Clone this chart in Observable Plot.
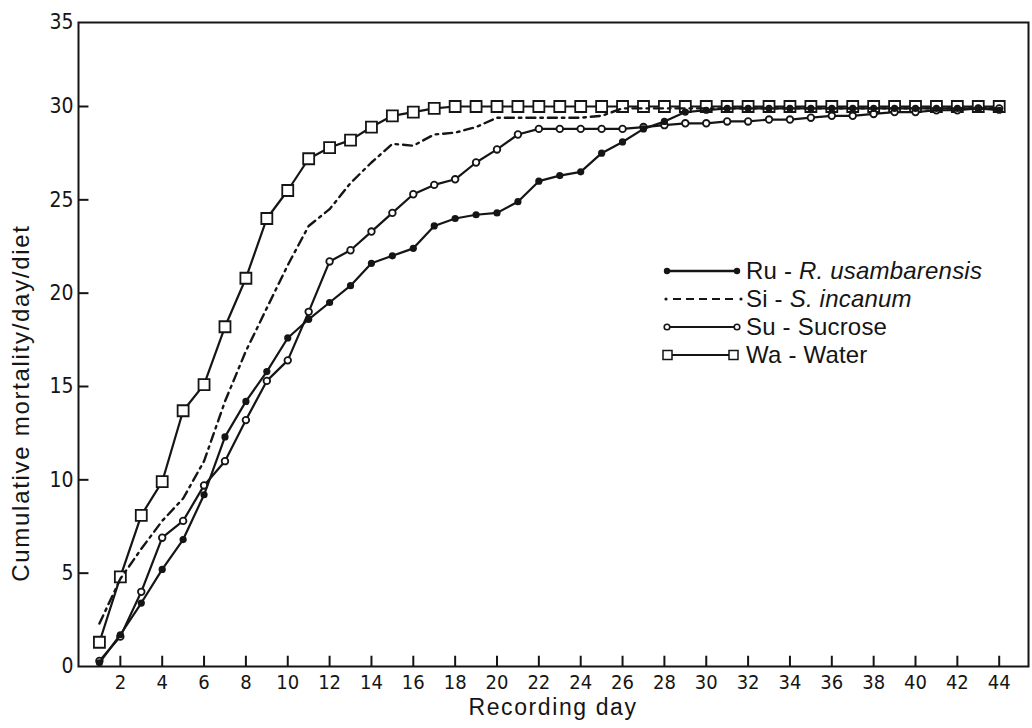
<!DOCTYPE html>
<html><head><meta charset="utf-8">
<script src="https://cdn.jsdelivr.net/npm/d3@7"></script>
<script src="https://cdn.jsdelivr.net/npm/@observablehq/plot@0.6"></script>
<style>
html,body{margin:0;padding:0;background:#fff;}
#chart{position:relative;width:1032px;height:728px;}
#legend{position:absolute;left:662px;top:257px;font-family:"Liberation Sans",Arial,sans-serif;font-size:24px;color:#151515;letter-spacing:0.2px;}
#legend .row{display:flex;align-items:center;height:28px;white-space:pre;}
#legend svg{flex:none;margin-right:3px;}
.title{position:absolute;font-family:"Liberation Sans",Arial,sans-serif;color:#151515;white-space:nowrap;line-height:1;}
#ytitle{left:21px;top:403px;font-size:24px;letter-spacing:1.7px;transform:translate(-50%,-50%) rotate(-90deg);}
#xtitle{left:553px;top:707px;font-size:23px;letter-spacing:1.6px;transform:translate(-50%,-50%);}
</style></head><body><div id="chart"></div>
<script>
// ---- data ----
const days = [1,2,3,4,5,6,7,8,9,10,11,12,13,14,15,16,17,18,19,20,21,22,23,24,25,26,27,28,29,30,31,32,33,34,35,36,37,38,39,40,41,42,43,44];
const ru = [0.2,1.7,3.4,5.2,6.8,9.2,12.3,14.2,15.8,17.6,18.6,19.5,20.4,21.6,22.0,22.4,23.6,24.0,24.2,24.3,24.9,26.0,26.3,26.5,27.5,28.1,28.8,29.2,29.7,29.8,29.9,29.9,29.9,29.9,29.9,29.9,29.9,29.9,29.9,29.9,29.9,29.9,29.9,29.8];
const si = [2.3,4.7,6.3,7.8,9.0,11.0,14.2,16.9,19.2,21.5,23.6,24.5,25.9,27.0,28.0,27.9,28.5,28.6,28.9,29.4,29.4,29.4,29.4,29.4,29.5,29.9,29.9,29.9,29.9,29.9,29.9,29.9,29.9,29.9,29.9,29.9,29.9,29.9,29.9,29.9,29.9,29.9,29.9,29.9];
const su = [0.3,1.6,4.0,6.9,7.8,9.7,11.0,13.2,15.3,16.4,19.0,21.7,22.3,23.3,24.3,25.3,25.8,26.1,27.0,27.7,28.5,28.8,28.8,28.8,28.8,28.8,28.9,29.0,29.1,29.1,29.2,29.2,29.3,29.3,29.4,29.5,29.5,29.6,29.7,29.7,29.8,29.8,29.9,29.9];
const wa = [1.3,4.8,8.1,9.9,13.7,15.1,18.2,20.8,24.0,25.5,27.2,27.8,28.2,28.9,29.5,29.7,29.9,30,30,30,30,30,30,30,30,30,30,30,30,30,30,30,30,30,30,30,30,30,30,30,30,30,30,30];
const xTicks = [2,4,6,8,10,12,14,16,18,20,22,24,26,28,30,32,34,36,38,40,42,44];
const yTicks = [0,5,10,15,20,25,30];
const yTopLabel = "35";
const legendLabels = [
  ["Ru - ", "R. usambarensis"],
  ["Si - ", "S. incanum"],
  ["Su - ", "Sucrose"],
  ["Wa - ", "Water"]
];
const xLabel = "Recording day";
const yLabel = "Cumulative mortality/day/diet";

const toRows = v => days.map((d, i) => ({day: d, value: v[i]}));
const ruR = toRows(ru), siR = toRows(si), suR = toRows(su), waR = toRows(wa);

const INK = "#151515";
const yTop = 34.5; // top of the frame in the scan

const plot = Plot.plot({
  width: 1032, height: 728,
  marginLeft: 78, marginRight: 4, marginTop: 22, marginBottom: 62,
  x: {domain: [0, 45.4]},
  y: {domain: [0, yTop]},
  style: {fontFamily: "'DejaVu Sans Condensed', 'DejaVu Sans', sans-serif", fontSize: "20px", color: INK, background: "#fff"},
  marks: [
    Plot.frame({stroke: INK, strokeWidth: 2}),
    Plot.ruleY(yTicks.slice(1), {y: d => d, x1: 0, x2: 0.5, stroke: INK, strokeWidth: 2}),
    Plot.ruleX(xTicks, {x: d => d, y1: 0, y2: 0.55, stroke: INK, strokeWidth: 2}),
    Plot.axisX({ticks: xTicks, tickSize: 0, tickPadding: 8, label: null, fontSize: 20}),
    Plot.axisY({ticks: [...yTicks, yTop], tickFormat: d => d === yTop ? yTopLabel : String(d), tickSize: 0, tickPadding: 5, label: null, fontSize: 21}),
    // Water
    Plot.line(waR, {x: "day", y: "value", stroke: INK, strokeWidth: 2.2}),
    Plot.dot(waR, {x: "day", y: "value", symbol: "square", r: 6.2, fill: "#fff", stroke: INK, strokeWidth: 1.8}),
    // S. incanum
    Plot.line(siR, {x: "day", y: "value", stroke: INK, strokeWidth: 2.4, strokeDasharray: "9,5,2.5,5"}),
    // Sucrose
    Plot.line(suR, {x: "day", y: "value", stroke: INK, strokeWidth: 2.2}),
    Plot.dot(suR, {x: "day", y: "value", r: 3.3, fill: "#fff", stroke: INK, strokeWidth: 1.8}),
    // R. usambarensis
    Plot.line(ruR, {x: "day", y: "value", stroke: INK, strokeWidth: 2.2}),
    Plot.dot(ruR, {x: "day", y: "value", r: 3.6, fill: INK})
  ]
});
const chart = document.getElementById("chart");
chart.appendChild(plot);

// axis titles
const xt = document.createElement("div");
xt.id = "xtitle"; xt.className = "title"; xt.textContent = xLabel;
chart.appendChild(xt);
const yt = document.createElement("div");
yt.id = "ytitle"; yt.className = "title"; yt.textContent = yLabel;
chart.appendChild(yt);

// legend (overlaid inside the plot area, as in the original)
const samples = [
  `<line x1="5" y1="14" x2="75" y2="14" stroke="${INK}" stroke-width="2.4"/><circle cx="5" cy="14" r="3.2" fill="${INK}"/><circle cx="75" cy="14" r="3.2" fill="${INK}"/>`,
  `<circle cx="4" cy="14" r="1.6" fill="${INK}"/><line x1="11" y1="14" x2="74" y2="14" stroke="${INK}" stroke-width="2.2" stroke-dasharray="8,5"/><circle cx="79" cy="14" r="1.6" fill="${INK}"/>`,
  `<line x1="5" y1="14" x2="75" y2="14" stroke="${INK}" stroke-width="2.2"/><circle cx="5" cy="14" r="2.8" fill="#fff" stroke="${INK}" stroke-width="1.6"/><circle cx="75" cy="14" r="2.8" fill="#fff" stroke="${INK}" stroke-width="1.6"/>`,
  `<line x1="9" y1="14" x2="68" y2="14" stroke="${INK}" stroke-width="2.2"/><rect x="1" y="9.5" width="9" height="9" fill="#fff" stroke="${INK}" stroke-width="1.5"/><rect x="67" y="9.5" width="9" height="9" fill="#fff" stroke="${INK}" stroke-width="1.5"/>`
];
const legend = document.createElement("div");
legend.id = "legend";
legendLabels.forEach((lab, i) => {
  const row = document.createElement("div");
  row.className = "row";
  const italic = i < 2;
  row.innerHTML = `<svg width="81" height="28">${samples[i]}</svg><span>${lab[0]}</span><span style="${italic ? "font-style:italic" : ""}">${lab[1]}</span>`;
  legend.appendChild(row);
});
chart.appendChild(legend);
</script>
</body></html>
